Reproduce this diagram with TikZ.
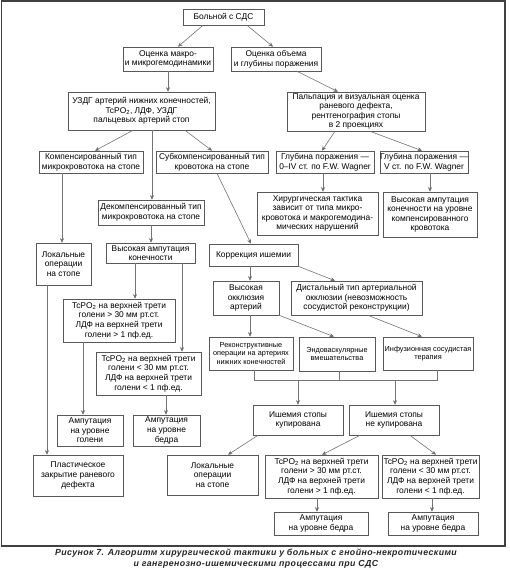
\documentclass[tikz,border=0pt]{standalone}
\usepackage{fontspec}
\setmainfont{Liberation Sans}
\newfontfamily\capfont{Liberation Sans}[LetterSpace=4.5]
\usetikzlibrary{arrows.meta,calc}
\newcommand\mybox[7][]{%
  \pgfmathsetmacro\bxcx{(#3+#5)/2}\pgfmathsetmacro\bxcy{(#4+#6)/2}%
  \pgfmathsetmacro\bxw{#5-#3}\pgfmathsetmacro\bxh{#6-#4}%
  \node[box,#1,minimum width=\bxw pt,minimum height=\bxh pt] (#2) at (\bxcx,\bxcy) {#7};}
\begin{document}
\begin{tikzpicture}[x=1pt,y=-1pt,
  box/.style={draw=black!65,line width=0.6pt,inner sep=0pt,align=center,
    font=\fontsize{8.4}{9.6}\selectfont,text=black},
  small/.style={font=\fontsize{7.3}{8.7}\selectfont},
  conn/.style={draw=black!55,line width=0.6pt},
  arr/.style={conn,-{Stealth[length=4.5pt,width=4pt,fill=black!90]}}]
\useasboundingbox (0,0) rectangle (510,569);
\fill[white] (0,0) rectangle (510,569);
\draw[black!75,line width=1.2pt] (1.5,1) rectangle (505,546);
% boxes
\mybox{start}{183}{9}{264}{25}{Больной с СДС}
\mybox{macro}{123}{47}{213}{71}{Оценка макро-\\и микрогемодинамики}
\mybox{volume}{231}{47}{321}{71}{Оценка объема\\и глубины поражения}
\mybox{uzdg}{68}{92}{215}{130}{УЗДГ артерий нижних конечностей,\\TcPO\textsubscript{2}, ЛДФ, УЗДГ\\пальцевых артерий стоп}
\mybox{palp}{287}{92}{425}{131}{Пальпация и визуальная оценка\\раневого дефекта,\\рентгенография стопы\\в 2 проекциях}
\mybox{komp}{39}{151}{143}{173}{Компенсированный тип\\микрокровотока на стопе}
\mybox{subk}{156}{151}{268}{173}{Субкомпенсированный тип\\кровотока на стопе}
\mybox{gfour}{276}{151}{374}{173}{Глубина поражения —\\0–IV ст. по F.W. Wagner}
\mybox{gfive}{380}{151}{468}{173}{Глубина поражения —\\V ст. по F.W. Wagner}
\mybox{dekomp}{98}{200}{204}{225}{Декомпенсированный тип\\микрокровотока на стопе}
\mybox{hir}{257}{192}{378}{235}{Хирургическая тактика\\зависит от типа микро-\\кровотока и макрогемодина-\\мических нарушений}
\mybox{vaw}{383}{192}{477}{237}{Высокая ампутация\\конечности на уровне\\компенсированного\\кровотока}
\mybox{lokA}{36}{243}{91}{285}{Локальные\\операции\\на стопе}
\mybox{vysamp}{106}{243}{195}{263}{Высокая ампутация\\конечности}
\mybox{korr}{209}{244}{298}{266}{Коррекция ишемии}
\mybox{tcA}{63}{299}{175}{342}{TcPO\textsubscript{2} на верхней трети\\голени > 30 мм рт.ст.\\ЛДФ на верхней трети\\голени > 1 пф.ед.}
\mybox{vyso}{213}{281}{279}{315}{Высокая\\окклюзия\\артерий}
\mybox{dist}{291}{281}{422}{315}{Дистальный тип артериальной\\окклюзии (невозможность\\сосудистой реконструкции)}
\mybox{tcB}{96}{352}{201}{395}{TcPO\textsubscript{2} на верхней трети\\голени < 30 мм рт.ст.\\ЛДФ на верхней трети\\голени < 1 пф.ед.}
\mybox[small]{rek}{209}{337}{293}{370}{Реконструктивные\\операции на артериях\\нижних конечностей}
\mybox[small]{endo}{299}{337}{375}{371}{Эндоваскулярные\\вмешательства}
\mybox[small]{inf}{383}{337}{473}{370}{Инфузионная сосудистая\\терапия}
\mybox{kup}{253}{405}{343}{435}{Ишемия стопы\\купирована}
\mybox{nekup}{349}{405}{439}{435}{Ишемия стопы\\не купирована}
\mybox{ampg}{57}{415}{123}{446}{Ампутация\\на уровне\\голени}
\mybox{ampb}{133}{415}{200}{446}{Ампутация\\на уровне\\бедра}
\mybox{plast}{33}{455}{123}{496}{Пластическое\\закрытие раневого\\дефекта}
\mybox{lokB}{167}{455}{258}{495}{Локальные\\операции\\на стопе}
\mybox{tcC}{265}{455}{378}{498}{TcPO\textsubscript{2} на верхней трети\\голени > 30 мм рт.ст.\\ЛДФ на верхней трети\\голени > 1 пф.ед.}
\mybox{tcD}{382}{455}{479}{498}{TcPO\textsubscript{2} на верхней трети\\голени < 30 мм рт.ст.\\ЛДФ на верхней трети\\голени < 1 пф.ед.}
\mybox{ampC}{274}{512}{368}{535}{Ампутация\\на уровне бедра}
\mybox{ampD}{388}{512}{478}{535}{Ампутация\\на уровне бедра}
% connectors
\draw[arr] (start.south -| 203,0) -- (macro.north -| 178,0);
\draw[arr] (start.south -| 247,0) -- (volume.north -| 273,0);
\draw[arr] (macro.south -| 168,0) -- (uzdg.north -| 168,0);
\draw[arr] (volume.south -| 297,0) -- (palp.north -| 338,0);
\draw[arr] (uzdg.south -| 133,0) -- (komp.north -| 95,0);
\draw[arr] (uzdg.south -| 152,0) -- (dekomp.north -| 152,0);
\draw[arr] (uzdg.south -| 185,0) -- (subk.north -| 212,0);
\draw[arr] (palp.south -| 335,0) -- (gfour.north -| 322,0);
\draw[arr] (palp.south -| 370,0) -- (gfive.north -| 422,0);
\draw[arr] (gfour.south -| 323,0) -- (hir.north -| 323,0);
\draw[arr] (gfive.south -| 430,0) -- (vaw.north -| 430,0);
\draw[arr] (komp.south -| 62,0) -- (lokA.north -| 62,0);
\draw[arr] (dekomp.south -| 151,0) -- (vysamp.north -| 151,0);
\draw[arr] (subk.south -| 217,0) -- (korr.north -| 251,0);
\draw[arr] (vysamp.south -| 135,0) -- (tcA.north -| 135,0);
\draw[arr] (vysamp.south -| 182,0) -- (tcB.north -| 182,0);
\draw[arr] (lokA.south -| 47,0) -- (plast.north -| 47,0);
\draw[arr] (korr.south -| 250,0) -- (vyso.north -| 250,0);
\draw[arr] (korr.south east) -- (dist.north -| 335,0);
\draw[arr] (vyso.south -| 250,0) -- (rek.north -| 250,0);
\draw[arr] (vyso.south east) -- (endo.north -| 334,0);
\draw[arr] (dist.south -| 368,0) -- (inf.north -| 422,0);
\coordinate (mL) at (254,380);
\coordinate (mR) at (437,380);
\draw[conn] (rek.south -| mL) -- (mL) -- (mR) -- (inf.south -| mR);
\draw[conn] (endo.south -| 339,0) -- (mL -| 339,0);
\draw[arr] (mL -| 298,0) -- (kup.north -| 298,0);
\draw[arr] (mL -| 395,0) -- (nekup.north -| 395,0);
\draw[arr] (tcA.south -| 83,0) -- (ampg.north -| 83,0);
\draw[arr] (tcB.south -| 166,0) -- (ampb.north -| 166,0);
\draw[arr] (kup.south -| 258,0) -- (lokB.north -| 228,0);
\draw[arr] (nekup.south -| 360,0) -- (tcC.north -| 322,0);
\draw[arr] (nekup.south -| 410,0) -- (tcD.north -| 436,0);
\draw[arr] (tcC.south -| 317,0) -- (ampC.north -| 317,0);
\draw[arr] (tcD.south -| 432,0) -- (ampD.north -| 432,0);
% caption
\node[align=center,font=\fontsize{8.8}{10.6}\capfont\bfseries\itshape,text=black!85] (cap) at (256,558.5)
 {Рисунок 7. Алгоритм хирургической тактики у больных с гнойно-некротическими\\и гангренозно-ишемическими процессами при СДС};
\end{tikzpicture}
\end{document}
